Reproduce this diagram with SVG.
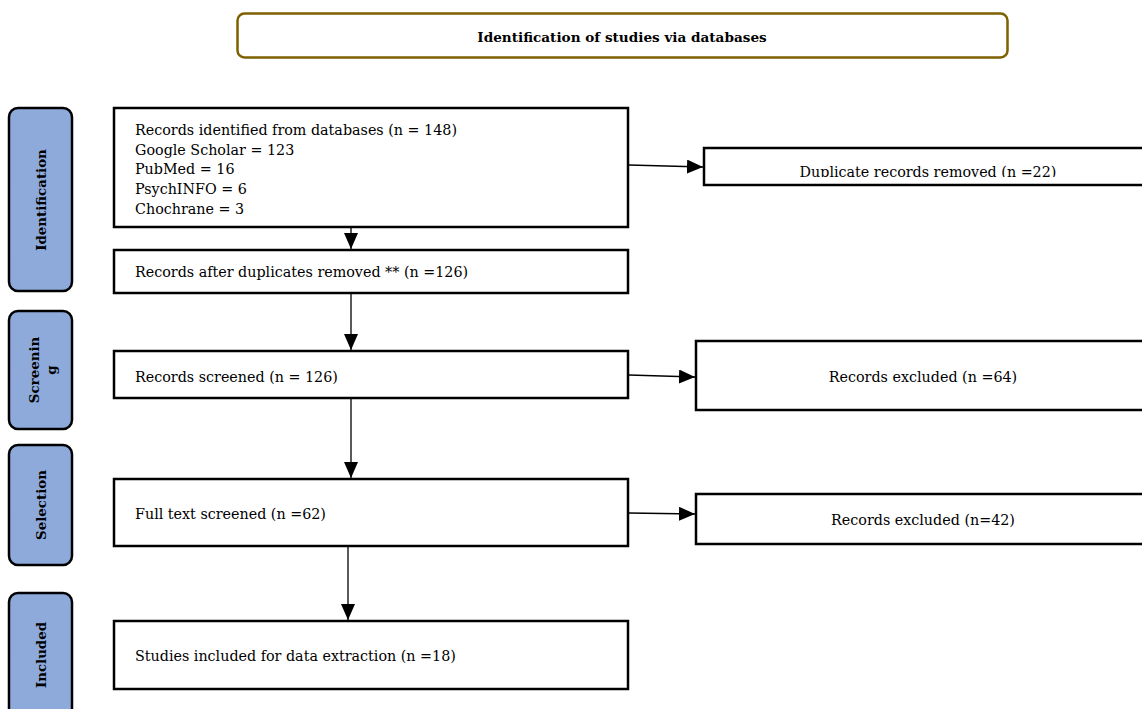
<svg xmlns="http://www.w3.org/2000/svg" width="1142" height="709" viewBox="0 0 1142 709">
<defs>
<style>
.box{fill:#fff;stroke:#000;stroke-width:2.5}
.side{fill:#8eaadb;stroke:#000;stroke-width:2.5}
.t{font-family:"DejaVu Serif","Liberation Serif",serif;font-size:14.3px;fill:#000}
.tb{font-family:"DejaVu Serif","Liberation Serif",serif;font-size:13.6px;font-weight:bold;fill:#000}
.sb{font-family:"DejaVu Serif","Liberation Serif",serif;font-size:13.4px;font-weight:bold;fill:#000}
.c{stroke:#000;stroke-width:1.3;fill:none}
</style>
<marker id="ah" viewBox="0 0 16 14" refX="16" refY="7" markerWidth="16" markerHeight="14" markerUnits="userSpaceOnUse" orient="auto">
<path d="M0,0 L16,7 L0,14 Z" fill="#000"/>
</marker>
<clipPath id="dupclip"><rect x="705" y="149" width="437" height="28"/></clipPath>
</defs>
<rect width="1142" height="709" fill="#fff"/>

<g id="title">
<rect x="237.5" y="13.5" width="770" height="44" rx="7" fill="#fff" stroke="#7f6000" stroke-width="2.5"/>
<text class="tb" x="622" y="42" text-anchor="middle">Identification of studies via databases</text>
</g>

<g id="side-identification">
<rect class="side" x="9" y="108" width="63" height="183" rx="9"/>
<text class="sb" transform="translate(46,200) rotate(-90)" text-anchor="middle">Identification</text>
</g>
<g id="side-screening">
<rect class="side" x="9" y="311" width="63" height="118" rx="9"/>
<text class="sb" transform="translate(39,370) rotate(-90)" text-anchor="middle">Screenin</text>
<text class="sb" transform="translate(56,370) rotate(-90)" text-anchor="middle">g</text>
</g>
<g id="side-selection">
<rect class="side" x="9" y="445" width="63" height="120" rx="9"/>
<text class="sb" transform="translate(46,505) rotate(-90)" text-anchor="middle">Selection</text>
</g>
<g id="side-included">
<rect class="side" x="9" y="593" width="63" height="125" rx="9"/>
<text class="sb" transform="translate(46,655) rotate(-90)" text-anchor="middle">Included</text>
</g>

<g id="records-identified">
<rect class="box" x="114" y="108" width="514" height="119"/>
<text class="t" x="135" y="135">Records identified from databases (n = 148)</text>
<text class="t" x="135" y="155">Google Scholar = 123</text>
<text class="t" x="135" y="174">PubMed = 16</text>
<text class="t" x="135" y="194">PsychINFO = 6</text>
<text class="t" x="135" y="214">Chochrane = 3</text>
</g>
<g id="duplicates-removed">
<rect class="box" x="704" y="148" width="445" height="37"/>
<text class="t" x="928" y="177" text-anchor="middle" clip-path="url(#dupclip)">Duplicate records removed (n =22)</text>
</g>
<g id="records-after">
<rect class="box" x="114" y="250" width="514" height="43"/>
<text class="t" x="135" y="277">Records after duplicates removed ** (n =126)</text>
</g>
<g id="records-screened">
<rect class="box" x="114" y="351" width="514" height="47"/>
<text class="t" x="135" y="382">Records screened (n = 126)</text>
</g>
<g id="records-excluded-1">
<rect class="box" x="696" y="341" width="453" height="69"/>
<text class="t" x="923" y="382" text-anchor="middle">Records excluded (n =64)</text>
</g>
<g id="full-text">
<rect class="box" x="114" y="479" width="514" height="67"/>
<text class="t" x="135" y="519">Full text screened (n =62)</text>
</g>
<g id="records-excluded-2">
<rect class="box" x="696" y="494" width="453" height="50"/>
<text class="t" x="923" y="525" text-anchor="middle">Records excluded (n=42)</text>
</g>
<g id="included">
<rect class="box" x="114" y="621" width="514" height="68"/>
<text class="t" x="135" y="661">Studies included for data extraction (n =18)</text>
</g>

<g id="connectors">
<line class="c" x1="351" y1="228" x2="351" y2="249" marker-end="url(#ah)"/>
<line class="c" x1="351" y1="294" x2="351" y2="350" marker-end="url(#ah)"/>
<line class="c" x1="351" y1="399" x2="351" y2="478" marker-end="url(#ah)"/>
<line class="c" x1="348" y1="547" x2="348" y2="620" marker-end="url(#ah)"/>
<line class="c" x1="629" y1="165" x2="703" y2="167" marker-end="url(#ah)"/>
<line class="c" x1="629" y1="375" x2="695" y2="377" marker-end="url(#ah)"/>
<line class="c" x1="629" y1="513" x2="695" y2="514" marker-end="url(#ah)"/>
</g>
</svg>
